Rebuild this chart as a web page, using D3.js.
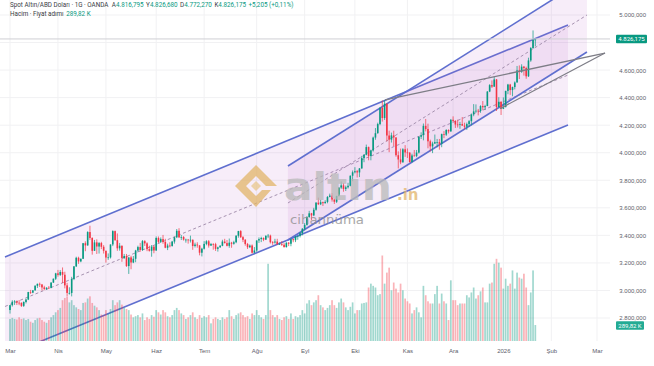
<!DOCTYPE html>
<html>
<head>
<meta charset="utf-8">
<script src="https://cdn.jsdelivr.net/npm/d3@7"></script>
<style>
  html, body { margin: 0; background: #fff; }
  svg { display: block; font-family: Roboto, 'Noto Sans', sans-serif; }
</style>
</head>
<body>
<div id="chart"></div>
<script>
// daily XAU/USD candles, 3 Mar 2025 -> 22 Jan 2026 (one row per month)
const open = [
  2858,2893,2918,2920,2911,2910,2888,2916,2934,2988,2984,3001,3034,3048,3043,3022,3011,3020,3019,3057,3085,
  3124,3113,3134,3114,3037,2982,2982,3083,3175,3237,3211,3230,3343,3327,3424,3381,3288,3349,3319,3344,3317,
  3288,3239,3240,3334,3431,3365,3306,3325,3236,3250,3177,3240,3203,3230,3290,3315,3294,3358,3342,3300,3288,3318,
  3290,3381,3353,3373,3352,3310,3326,3323,3355,3386,3433,3385,3388,3369,3369,3368,3368,3323,3333,3327,3274,
  3303,3338,3357,3326,3337,3336,3302,3313,3324,3355,3344,3324,3347,3339,3350,3397,3431,3387,3368,3337,3314,3326,3274,
  3290,3363,3373,3381,3369,3397,3398,3350,3348,3355,3336,3336,3332,3315,3347,3339,3372,3365,3393,3397,3416,
  3448,3476,3533,3560,3545,3586,3637,3626,3641,3634,3643,3679,3689,3660,3644,3685,3747,3763,3737,3749,3760,3833,
  3858,3866,3857,3886,3961,3985,4041,3976,4017,4110,4142,4208,4326,4252,4356,4125,4095,4126,4111,3982,3951,3930,4025,
  4002,4000,3932,3980,3977,4001,4116,4128,4195,4172,4083,4046,4067,4077,4077,4065,4135,4131,4165,4155,
  4239,4231,4205,4203,4208,4197,4189,4208,4229,4278,4300,4305,4303,4339,4330,4339,4444,4491,4480,4532,4332,4370,
  4319,4331,4449,4495,4455,4477,4510,4598,4588,4625,4615,4555,4670,4760,4816.795
];
const high = [
  2894,2929,2930,2927,2930,2914,2921,2940,2990,3004,3002,3038,3050,3057,3047,3034,3023,3032,3060,3087,3128,
  3149,3148,3167,3136,3055,3023,3099,3176,3245,3245,3232,3345,3357,3430,3470,3386,3367,3371,3352,3353,3329,
  3289,3269,3334,3437,3435,3414,3345,3325,3265,3265,3240,3252,3250,3295,3325,3345,3366,3365,3350,3325,3330,3326,
  3392,3392,3385,3403,3375,3340,3350,3360,3390,3446,3452,3403,3395,3376,3374,3398,3370,3347,3350,3329,3310,
  3358,3365,3366,3345,3343,3346,3318,3330,3368,3375,3366,3377,3353,3361,3402,3433,3438,3395,3373,3345,3334,3334,3315,
  3363,3385,3390,3385,3400,3410,3405,3358,3375,3375,3348,3358,3345,3350,3351,3378,3376,3393,3398,3423,3453,
  3489,3540,3578,3563,3600,3642,3674,3658,3645,3655,3685,3703,3707,3666,3688,3750,3791,3779,3761,3782,3835,3871,
  3895,3875,3889,3977,3990,4059,4045,4022,4117,4179,4218,4330,4380,4381,4359,4160,4146,4160,4112,4010,4030,4033,4055,
  4031,4005,3993,4020,4020,4118,4148,4212,4245,4211,4095,4080,4132,4100,4100,4139,4157,4171,4170,4245,
  4264,4236,4240,4224,4259,4218,4219,4237,4285,4353,4351,4318,4345,4375,4348,4448,4498,4525,4550,4535,4403,4373,
  4402,4450,4500,4500,4480,4518,4630,4634,4642,4630,4625,4690,4767,4888,4826.68
];
const low = [
  2832,2883,2895,2894,2893,2880,2880,2906,2930,2975,2980,2998,3018,3025,2999,3002,3005,3012,3016,3055,3076,
  3100,3105,3054,3015,2956,2970,2957,3075,3170,3193,3205,3228,3285,3325,3367,3260,3287,3265,3268,3300,3268,
  3202,3222,3232,3322,3360,3288,3289,3208,3228,3171,3120,3154,3198,3205,3283,3281,3287,3323,3285,3282,3245,3270,
  3288,3343,3345,3339,3307,3293,3313,3318,3340,3380,3383,3366,3362,3347,3340,3348,3295,3312,3310,3255,3247,
  3297,3328,3311,3323,3296,3287,3282,3310,3321,3341,3320,3310,3310,3332,3343,3383,3381,3351,3325,3301,3308,3268,3270,
  3281,3345,3351,3358,3366,3380,3341,3331,3340,3330,3330,3323,3311,3311,3322,3321,3350,3351,3368,3385,3400,
  3436,3471,3528,3511,3540,3579,3620,3620,3613,3630,3633,3676,3645,3628,3635,3683,3737,3717,3722,3740,3756,3793,
  3850,3820,3823,3884,3931,3981,3945,3945,4008,4094,4138,4200,4226,4238,4082,4004,4074,4048,3971,3886,3917,3929,3970,
  3962,3929,3931,3972,3968,3994,4100,4090,4155,4032,4010,3997,4063,4039,4022,4040,4106,4122,4140,4152,
  4222,4180,4183,4174,4196,4170,4166,4187,4198,4265,4290,4271,4290,4308,4310,4338,4440,4470,4478,4303,4328,4274,
  4317,4330,4425,4420,4410,4460,4510,4535,4580,4560,4537,4550,4660,4755,4772.27
];
const close = [
  2893,2918,2920,2911,2910,2888,2916,2934,2988,2984,3001,3034,3048,3043,3022,3011,3020,3019,3057,3085,3124,
  3113,3134,3114,3037,2982,2982,3083,3175,3237,3211,3230,3343,3327,3424,3381,3288,3349,3319,3344,3317,3288,
  3239,3240,3334,3431,3365,3306,3325,3236,3250,3177,3240,3203,3230,3290,3315,3294,3358,3342,3300,3288,3318,3290,
  3381,3353,3373,3352,3310,3326,3323,3355,3386,3433,3385,3388,3369,3369,3368,3368,3323,3333,3327,3274,3303,
  3338,3357,3326,3337,3336,3302,3313,3324,3355,3344,3324,3347,3339,3350,3397,3431,3387,3368,3337,3314,3326,3274,3290,
  3363,3373,3381,3369,3397,3398,3350,3348,3355,3336,3336,3332,3315,3347,3339,3372,3365,3393,3397,3416,3448,
  3476,3533,3560,3545,3586,3637,3626,3641,3634,3643,3679,3689,3660,3644,3685,3747,3763,3737,3749,3760,3833,3858,
  3866,3857,3886,3961,3985,4041,3976,4017,4110,4142,4208,4326,4252,4356,4125,4095,4126,4111,3982,3951,3930,4025,4002,
  4000,3932,3980,3977,4001,4116,4128,4195,4172,4083,4046,4067,4077,4077,4065,4135,4131,4165,4155,4239,
  4231,4205,4203,4208,4197,4189,4208,4229,4278,4300,4305,4303,4339,4330,4339,4444,4491,4480,4532,4332,4370,4319,
  4331,4449,4495,4455,4477,4510,4598,4588,4625,4615,4555,4670,4760,4820.97,4826.175
];
// volume, thousands
const volume = [
  400,420,400,390,430,400,410,380,400,350,330,380,410,420,380,350,330,380,430,470,520,
  560,600,740,780,800,700,740,650,610,580,560,690,700,770,810,690,640,610,560,480,470,
  560,500,580,740,650,700,740,660,600,580,560,480,430,450,470,430,500,380,430,400,470,440,
  560,520,480,560,520,450,430,470,560,600,560,500,470,400,430,470,520,430,400,470,420,
  450,430,470,320,400,430,400,380,430,400,430,560,450,400,470,500,520,470,430,450,400,500,470,
  560,470,430,400,470,1400,560,470,430,470,400,380,430,450,400,500,400,450,430,470,560,
  500,680,740,650,700,740,830,650,610,560,600,650,740,650,600,700,770,700,610,560,620,700,
  500,560,560,680,690,700,970,1040,1000,970,830,850,1550,1040,1240,1330,920,1060,950,880,1040,920,770,
  720,680,500,560,610,520,430,1000,830,720,680,680,850,1000,680,860,720,680,380,1100,
  740,740,650,680,680,680,830,790,880,970,770,830,900,970,700,700,1040,1060,1400,1490,1420,1330,
  950,1130,1000,1040,1280,950,1240,1150,1130,1220,970,650,880,1280,289.82
];

const holidays = ['2025-04-18', '2025-12-25', '2026-01-01'];
const monthLabels = ['Mar', 'Nis', 'May', 'Haz', 'Tem', 'Ağu', 'Eyl', 'Eki', 'Kas', 'Ara', '2026', 'Şub', 'Mar'];
const priceTicks = [5000, 4800, 4600, 4400, 4200, 4000, 3800, 3600, 3400, 3200, 3000, 2800];

// drawings, in [bar index, price]
const bigChannelIdx = [-2.2, 244.3];
const bigUpper = [3243, 4927];
const bigLower = [2524, 4201];
const steepChannelIdx = [121.7, 252.6];
const steepUpper = [3904, 5269];
const steepLower = [3366, 4731];
const wedgeTop = [[164.2, 4383], [260.5, 4724]];
const wedgeBottom = [[214.5, 4320], [260.5, 4724]];

const headerTitle = 'Spot Altın/ABD Doları · 1G · OANDA';
const headerOhlc = [['A', '4.816,795'], ['Y', '4.826,680'], ['D', '4.772,270'], ['K', '4.826,175']];
const headerChange = '+5,205 (+0,11%)';
const volTitle = 'Hacim · Fiyat adımı';
const volValue = '289,82 K';

const W = 654, H = 366;
const plotR = 610, plotB = 341;
const UP = '#089981', DOWN = '#f23645';

// trading days
const days = [];
for (let d = new Date(Date.UTC(2025, 2, 3)); d <= new Date(Date.UTC(2026, 2, 2)); d.setUTCDate(d.getUTCDate() + 1)) {
  const wd = d.getUTCDay();
  const iso = d.toISOString().slice(0, 10);
  if (wd === 0 || wd === 6 || holidays.includes(iso)) continue;
  days.push(iso);
}
const monthStarts = days.map((d, i) => i).filter(i => i === 0 || days[i].slice(0, 7) !== days[i - 1].slice(0, 7));

const x = d3.scaleLinear().domain([0, days.length - 1]).range([10, 597]);
const y = d3.scaleLinear().domain([2800, 5000]).range([318, 15]);
const yVol = d3.scaleLinear().domain([0, 1650]).range([plotB, 250]);

const tr = d3.formatLocale({ decimal: ',', thousands: '.', grouping: [3], currency: ['', ''] });
const fmtPrice = tr.format(',.3f');

const svg = d3.select('#chart').append('svg').attr('width', W).attr('height', H);
svg.append('defs').append('clipPath').attr('id', 'plot')
  .append('rect').attr('x', 0).attr('y', 0).attr('width', plotR).attr('height', plotB);

// Grid
svg.append('g').selectAll('line').data(monthStarts).enter().append('line')
  .attr('x1', d => x(d)).attr('x2', d => x(d)).attr('y1', 0).attr('y2', plotB)
  .attr('stroke', '#f1f1f3');
svg.append('g').selectAll('line').data(priceTicks).enter().append('line')
  .attr('x1', 0).attr('x2', plotR).attr('y1', d => y(d)).attr('y2', d => y(d))
  .attr('stroke', '#f1f1f3');

const plot = svg.append('g').attr('clip-path', 'url(#plot)');

// Channels
function channel(idx, up, lo) {
  const fill = [[idx[0], up[0]], [idx[1], up[1]], [idx[1], lo[1]], [idx[0], lo[0]]];
  plot.append('path')
    .attr('d', 'M' + fill.map(p => [x(p[0]), y(p[1])].join(',')).join('L') + 'Z')
    .attr('fill', 'rgba(190,110,205,0.12)');
  plot.append('line')
    .attr('x1', x(idx[0])).attr('y1', y((up[0] + lo[0]) / 2))
    .attr('x2', x(idx[1])).attr('y2', y((up[1] + lo[1]) / 2))
    .attr('stroke', '#a692b0').attr('stroke-width', 1).attr('stroke-dasharray', '3,2.5');
  [up, lo].forEach(s => {
    plot.append('line')
      .attr('x1', x(idx[0])).attr('y1', y(s[0]))
      .attr('x2', x(idx[1])).attr('y2', y(s[1]))
      .attr('stroke', '#5f6fcf').attr('stroke-width', 1.6);
  });
}
channel(bigChannelIdx, bigUpper, bigLower);
channel(steepChannelIdx, steepUpper, steepLower);

// Volume
const idx = d3.range(close.length);
plot.append('g').selectAll('rect').data(idx).enter().append('rect')
  .attr('x', i => x(i) - 0.85).attr('width', 1.7)
  .attr('y', i => yVol(volume[i])).attr('height', i => plotB - yVol(volume[i]))
  .attr('fill', i => close[i] >= open[i] ? 'rgba(8,153,129,0.38)' : 'rgba(242,54,69,0.38)');

// Watermark
const wm = svg.append('g').attr('opacity', 0.75);
wm.append('path')
  .attr('d', 'M256,165 L277,186 L266,186 L256,176 L246,186 L256,196 L262,190 L271,190 L256,207 L235,186 Z')
  .attr('fill', '#e2b56a');
wm.append('path')
  .attr('d', 'M256,181 L261,186 L256,191 L251,186 Z')
  .attr('fill', '#e9c88d');
wm.append('text').attr('x', 284).attr('y', 200)
  .attr('font-family', "'DejaVu Sans', sans-serif").attr('font-weight', 700).attr('font-size', 37)
  .attr('textLength', 108).attr('lengthAdjust', 'spacingAndGlyphs')
  .attr('fill', '#b9b9b9').text('altın');
wm.append('text').attr('x', 397).attr('y', 200)
  .attr('font-family', "'DejaVu Sans', sans-serif").attr('font-weight', 700).attr('font-size', 15)
  .attr('fill', '#e2b56a').text('.in');
wm.append('text').attr('x', 290).attr('y', 224)
  .attr('font-family', "'DejaVu Sans', sans-serif").attr('font-size', 13)
  .attr('textLength', 74).attr('lengthAdjust', 'spacingAndGlyphs')
  .attr('fill', '#8c8c8c').text('cihannüma');

// Candles
const candles = plot.append('g');
candles.selectAll('line').data(idx).enter().append('line')
  .attr('x1', i => x(i)).attr('x2', i => x(i))
  .attr('y1', i => y(high[i])).attr('y2', i => y(low[i]))
  .attr('stroke', i => close[i] >= open[i] ? UP : DOWN).attr('stroke-width', 0.7);
candles.selectAll('rect').data(idx).enter().append('rect')
  .attr('x', i => x(i) - 0.8).attr('width', 1.6)
  .attr('y', i => y(Math.max(open[i], close[i])))
  .attr('height', i => Math.max(0.7, Math.abs(y(open[i]) - y(close[i]))))
  .attr('fill', i => close[i] >= open[i] ? UP : DOWN);

// Wedge
[wedgeTop, wedgeBottom].forEach(seg => {
  plot.append('line')
    .attr('x1', x(seg[0][0])).attr('y1', y(seg[0][1]))
    .attr('x2', x(seg[1][0])).attr('y2', y(seg[1][1]))
    .attr('stroke', '#7d7d86').attr('stroke-width', 1.3);
});

// Last price line
const last = close[close.length - 1];
svg.append('line').attr('x1', 0).attr('x2', plotR).attr('y1', y(last)).attr('y2', y(last))
  .attr('stroke', '#cfcfd4').attr('stroke-width', 1);

// Price axis
const yAxis = svg.append('g').attr('transform', `translate(${plotR},0)`)
  .call(d3.axisRight(y).tickValues(priceTicks.filter(d => Math.abs(y(d) - y(last)) > 8))
    .tickSize(0).tickPadding(36).tickFormat(fmtPrice));
yAxis.select('.domain').remove();
yAxis.selectAll('text').attr('fill', '#5d606b').attr('font-size', '6px').attr('text-anchor', 'end');

// Time axis
const xAxis = svg.append('g').attr('transform', `translate(0,${plotB})`)
  .call(d3.axisBottom(x).tickValues(monthStarts).tickSize(0).tickPadding(8)
    .tickFormat((d, i) => monthLabels[i]));
xAxis.select('.domain').remove();
xAxis.selectAll('text').attr('fill', '#5d606b').attr('font-size', '6px');

// Last value tags
function tag(cy, label, color, w) {
  const g = svg.append('g');
  g.append('rect').attr('x', 616).attr('y', cy - 4.2).attr('width', w).attr('height', 8.4)
    .attr('rx', 1).attr('fill', color);
  g.append('text').attr('x', 616 + w / 2).attr('y', cy + 2.1).attr('text-anchor', 'middle')
    .attr('font-size', '6px').attr('fill', '#fff').text(label);
}
tag(y(last), fmtPrice(last), UP, 31);
tag(yVol(volume[volume.length - 1]) + 0.5, volValue, '#22ab94', 28);

// Header
const row1 = svg.append('text').attr('x', 10).attr('y', 7)
  .attr('font-size', '6.3px').attr('fill', '#3a3d45');
row1.append('tspan').text(headerTitle);
headerOhlc.forEach((p, i) => {
  row1.append('tspan').attr('dx', i === 0 ? 3.5 : 2.5).text(p[0]);
  row1.append('tspan').attr('fill', UP).text(p[1]);
});
row1.append('tspan').attr('dx', 2.5).attr('fill', UP).text(headerChange);

const row2 = svg.append('text').attr('x', 10).attr('y', 16)
  .attr('font-size', '6.3px').attr('fill', '#3a3d45');
row2.append('tspan').text(volTitle);
row2.append('tspan').attr('dx', 2.5).attr('fill', UP).text(volValue);
</script>
</body>
</html>
